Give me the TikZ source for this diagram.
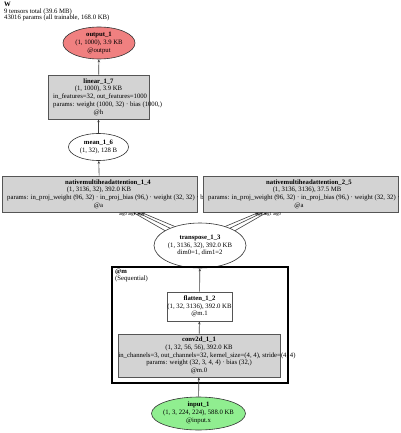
\documentclass[tikz,border=0pt]{standalone}
\usepackage{fontspec}
\setmainfont{Liberation Serif}
\usetikzlibrary{shapes.geometric,arrows.meta}
\definecolor{boxfill}{HTML}{D3D3D3}
\definecolor{boxline}{HTML}{555555}
\definecolor{outfill}{HTML}{F08080}
\definecolor{infill}{HTML}{90EE90}
\newcommand{\fsz}{\fontsize{6.7}{7.7}\selectfont}
\begin{document}
\begin{tikzpicture}[x=1pt,y=-1pt,
  rectbox/.style={rectangle, draw=boxline, fill=boxfill, line width=0.6pt, inner sep=0pt},
  ell/.style={ellipse, draw=black!80, line width=0.6pt, inner sep=0pt},
  t/.style={inner sep=0pt, font=\fsz, text height=4.7pt, text depth=1.5pt},
  tb/.style={t, font=\fsz\bfseries},
  edge/.style={draw=black!75, line width=0.6pt, -{Stealth[length=3pt,width=2.4pt]}},
  lbl/.style={inner sep=0pt, font=\fontsize{4.5}{5}\selectfont}]
\useasboundingbox[fill=white] (0,0) rectangle (400,433);

% header
\node[tb, anchor=west] (ttl) at (4,5) {W};
\node[t, anchor=west] (ttl2) at (4,11.5) {9 tensors total (39.6 MB)};
\node[t, anchor=west] (ttl3) at (4,18.3) {43016 params (all trainable, 168.0 KB)};

% output
\node[ell, fill=outfill, minimum width=72pt, minimum height=32pt] (out) at (99,43) {};
\node[tb] (outa) at (99,35.3) {output\_1};
\node[t] (outb) at (99,43) {(1, 1000), 3.9 KB};
\node[t] (outc) at (99,50.7) {@output};

% linear
\node[rectbox, minimum width=101pt, minimum height=44pt] (lin) at (98.5,97) {};
\node[tb] (lina) at (98.5,81.6) {linear\_1\_7};
\node[t] (linb) at (98.5,89.3) {(1, 1000), 3.9 KB};
\node[t, anchor=west] (linc) at (53,97) {in\_features=32, out\_features=1000};
\node[t, anchor=west] (lind) at (53,104.7) {params: weight (1000, 32) · bias (1000,)};
\node[t] (line) at (98.5,112.4) {@h};

% mean
\node[ell, fill=white, minimum width=60pt, minimum height=27pt] (mean) at (98.5,147) {};
\node[tb] (meana) at (98.5,143.2) {mean\_1\_6};
\node[t] (meanb) at (98.5,150.9) {(1, 32), 128 B};

% attention 1
\node[rectbox, minimum width=195pt, minimum height=36pt] (att1) at (99.5,194) {};
\node[tb] (att1a) at (108,182.5) {nativemultiheadattention\_1\_4};
\node[t] (att1b) at (99,190.2) {(1, 3136, 32), 392.0 KB};
\node[t, anchor=west] (att1c) at (7,197.8) {params: in\_proj\_weight (96, 32) · in\_proj\_bias (96,) · weight (32, 32) · bias (32,)};
\node[t] (att1d) at (98.5,205.5) {@a};

% attention 2
\node[rectbox, minimum width=195pt, minimum height=36pt] (att2) at (300.5,194) {};
\node[tb] (att2a) at (309,182.5) {nativemultiheadattention\_2\_5};
\node[t] (att2b) at (307,190.2) {(1, 3136, 3136), 37.5 MB};
\node[t, anchor=west] (att2c) at (208,197.8) {params: in\_proj\_weight (96, 32) · in\_proj\_bias (96,) · weight (32, 32) · bias (32,)};
\node[t] (att2d) at (299,205.5) {@a};

% transpose
\node[ell, fill=white, minimum width=92pt, minimum height=45pt] (tr) at (200,245.5) {};
\node[tb] (tra) at (200,237.8) {transpose\_1\_3};
\node[t] (trb) at (200,245.5) {(1, 3136, 32), 392.0 KB};
\node[t] (trc) at (200,253.2) {dim0=1, dim1=2};

% cluster
\node[draw=black, line width=2.4pt, minimum width=176pt, minimum height=116pt, inner sep=0pt] (cl) at (200,325) {};
\node[tb, anchor=west] (cla) at (115,271.5) {@m};
\node[t, anchor=west] (clb) at (115,278.5) {(Sequential)};

% flatten
\node[rectbox, fill=white, minimum width=65pt, minimum height=29pt] (flat) at (199.5,306.5) {};
\node[tb] (flata) at (199.5,298.8) {flatten\_1\_2};
\node[t] (flatb) at (199.5,306.5) {(1, 32, 3136), 392.0 KB};
\node[t] (flatc) at (199.5,314.2) {@m.1};

% conv
\node[rectbox, minimum width=162pt, minimum height=43pt] (conv) at (199,355.5) {};
\node[tb] (conva) at (199,340.1) {conv2d\_1\_1};
\node[t] (convb) at (199,347.8) {(1, 32, 56, 56), 392.0 KB};
\node[t] (convc) at (207,355.5) {in\_channels=3, out\_channels=32, kernel\_size=(4, 4), stride=(4, 4)};
\node[t] (convd) at (199,363.2) {params: weight (32, 3, 4, 4) · bias (32,)};
\node[t] (conve) at (199,370.9) {@m.0};

% input
\node[ell, fill=infill, minimum width=94pt, minimum height=33pt] (inp) at (198.5,413.5) {};
\node[tb] (inpa) at (198.5,405) {input\_1};
\node[t] (inpb) at (198.5,412.7) {(1, 3, 224, 224), 588.0 KB};
\node[t] (inpc) at (198.5,420.4) {@input.x};

% edges
\draw[edge] (inp) -- (conv);
\draw[edge] (conv) -- (flat);
\draw[edge] (flat) -- (tr);
\draw[edge] (tr.157) -- ([xshift=33.5pt]att1.south);
\draw[edge] (tr.150) -- ([xshift=37.5pt]att1.south);
\draw[edge] (tr.143) -- ([xshift=41.5pt]att1.south);
\draw[edge] (tr.23) -- ([xshift=-33.5pt]att2.south);
\draw[edge] (tr.30) -- ([xshift=-37.5pt]att2.south);
\draw[edge] (tr.37) -- ([xshift=-41.5pt]att2.south);
\draw[edge] (att1) -- (mean);
\draw[edge] (mean) -- (lin);
\draw[edge] (lin) -- (out);

% edge labels
\node[lbl] (l1a) at (123,214.3) {arg0};
\node[lbl] (l1b) at (132,214.3) {arg1};
\node[lbl] (l1c) at (141,214.3) {arg2};
\node[lbl] (l2a) at (259,214.3) {arg2};
\node[lbl] (l2b) at (268,214.3) {arg1};
\node[lbl] (l2c) at (277,214.3) {arg0};
\end{tikzpicture}
\end{document}
